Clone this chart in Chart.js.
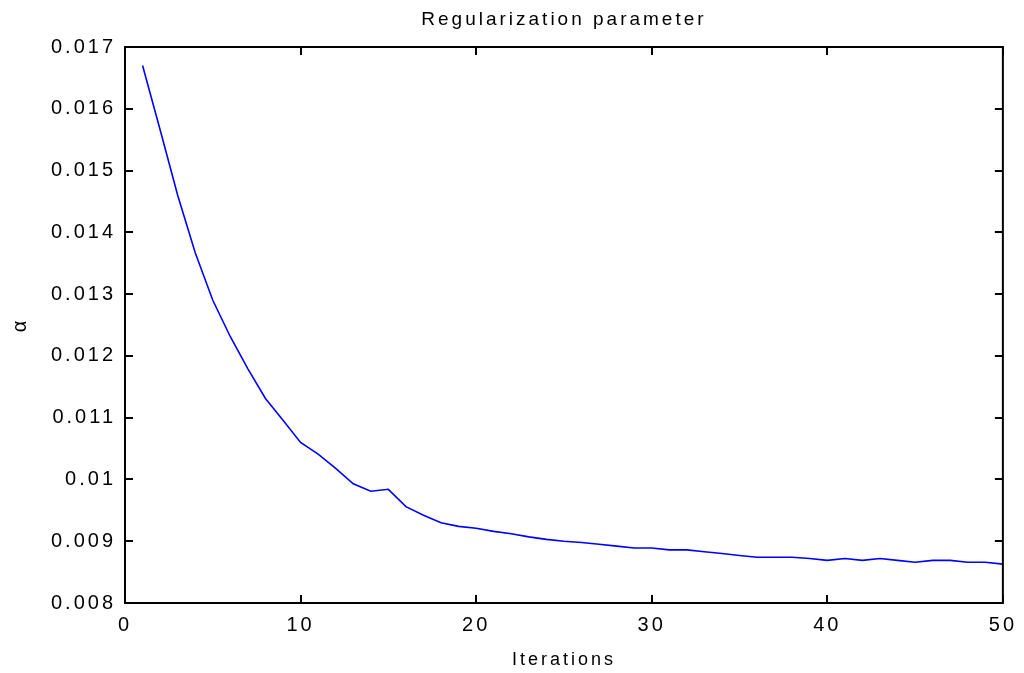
<!DOCTYPE html>
<html>
<head>
<meta charset="utf-8">
<script src="https://cdn.jsdelivr.net/npm/chart.js@4/dist/chart.umd.min.js"></script>
<style>
  html, body { margin: 0; padding: 0; background: #fff; }
  #wrap { width: 1024px; height: 673px; }
</style>
</head>
<body>
<div id="wrap"><canvas id="alpha-chart"></canvas></div>
<script>
const iterations = [1, 2, 3, 4, 5, 6, 7, 8, 9, 10,
  11, 12, 13, 14, 15, 16, 17, 18, 19, 20,
  21, 22, 23, 24, 25, 26, 27, 28, 29, 30,
  31, 32, 33, 34, 35, 36, 37, 38, 39, 40,
  41, 42, 43, 44, 45, 46, 47, 48, 49, 50];
const alphaValues = [0.01670, 0.01566, 0.01460, 0.01367, 0.01290, 0.01231, 0.01179, 0.01131, 0.01096, 0.01060,
  0.01041, 0.01018, 0.00993, 0.00981, 0.00984, 0.00956, 0.00942, 0.00930, 0.00924, 0.00921,
  0.00916, 0.00912, 0.00907, 0.00903, 0.00900, 0.00898, 0.00895, 0.00892, 0.00889, 0.00889,
  0.00886, 0.00886, 0.00883, 0.00880, 0.00877, 0.00874, 0.00874, 0.00874, 0.00872, 0.00869,
  0.00872, 0.00869, 0.00872, 0.00869, 0.00866, 0.00869, 0.00869, 0.00866, 0.00866, 0.00863];
const xTicks = [0, 10, 20, 30, 40, 50];
const yTicks = [0.008, 0.009, 0.010, 0.011, 0.012, 0.013, 0.014, 0.015, 0.016, 0.017];

const fontFamily = '"Liberation Sans", Arial, sans-serif';

// matlab-style frame with ticks pointing inwards on all four sides
const framePlugin = {
  id: 'frame',
  beforeDraw(chart) {
    chart.ctx.letterSpacing = '3px';
  },
  afterDatasetsDraw(chart) {
    const { ctx, chartArea: a, scales } = chart;
    const tick = 8;
    ctx.save();
    ctx.strokeStyle = '#000';
    ctx.lineWidth = 2;
    ctx.beginPath();
    xTicks.forEach((v) => {
      const px = Math.round(scales.x.getPixelForValue(v));
      ctx.moveTo(px, a.bottom);
      ctx.lineTo(px, a.bottom - tick);
      ctx.moveTo(px, a.top);
      ctx.lineTo(px, a.top + tick);
    });
    yTicks.forEach((v) => {
      const py = Math.round(scales.y.getPixelForValue(v));
      ctx.moveTo(a.left, py);
      ctx.lineTo(a.left + tick, py);
      ctx.moveTo(a.right, py);
      ctx.lineTo(a.right - tick, py);
    });
    ctx.stroke();
    ctx.strokeRect(a.left, a.top, a.right - a.left, a.bottom - a.top);
    ctx.restore();
    // title is drawn after this hook (z: 1)
    ctx.letterSpacing = '4px';
  }
};

new Chart(document.getElementById('alpha-chart'), {
  type: 'line',
  data: {
    datasets: [{
      data: iterations.map((it, i) => ({ x: it, y: alphaValues[i] })),
      borderColor: '#0000ff',
      borderWidth: 1.6,
      pointRadius: 0,
      tension: 0,
      fill: false
    }]
  },
  options: {
    responsive: true,
    maintainAspectRatio: false,
    animation: false,
    layout: { padding: { top: 0, right: 21, bottom: 0, left: 0 } },
    scales: {
      x: {
        type: 'linear',
        min: 0,
        max: 50,
        afterBuildTicks(scale) { scale.ticks = xTicks.map((v) => ({ value: v })); },
        afterFit(scale) { scale.height = 70; },
        grid: { display: false, drawTicks: false },
        border: { display: false },
        ticks: {
          color: '#000',
          padding: 10,
          maxRotation: 0,
          font: { family: fontFamily, size: 20 }
        },
        title: {
          display: true,
          text: 'Iterations',
          color: '#000',
          padding: { top: 0, bottom: 2 },
          font: { family: fontFamily, size: 18 }
        }
      },
      y: {
        min: 0.008,
        max: 0.017,
        afterBuildTicks(scale) { scale.ticks = yTicks.map((v) => ({ value: v })); },
        afterFit(scale) { scale.width = 125; },
        grid: { display: false, drawTicks: false },
        border: { display: false },
        ticks: {
          color: '#000',
          padding: 9,
          font: { family: fontFamily, size: 20 },
          callback(value) {
            return String(Number(value.toFixed(3)));
          }
        },
        title: {
          display: true,
          text: 'α',
          color: '#000',
          padding: { top: 8, bottom: 0 },
          font: { family: fontFamily, size: 20 }
        }
      }
    },
    plugins: {
      legend: { display: false },
      tooltip: { enabled: false },
      title: {
        display: true,
        text: 'Regularization parameter',
        color: '#000',
        fullSize: false,
        z: 1,
        padding: { top: 8, bottom: 16.2 },
        font: { family: fontFamily, size: 19, weight: 'normal' }
      }
    }
  },
  plugins: [framePlugin]
});
</script>
</body>
</html>
